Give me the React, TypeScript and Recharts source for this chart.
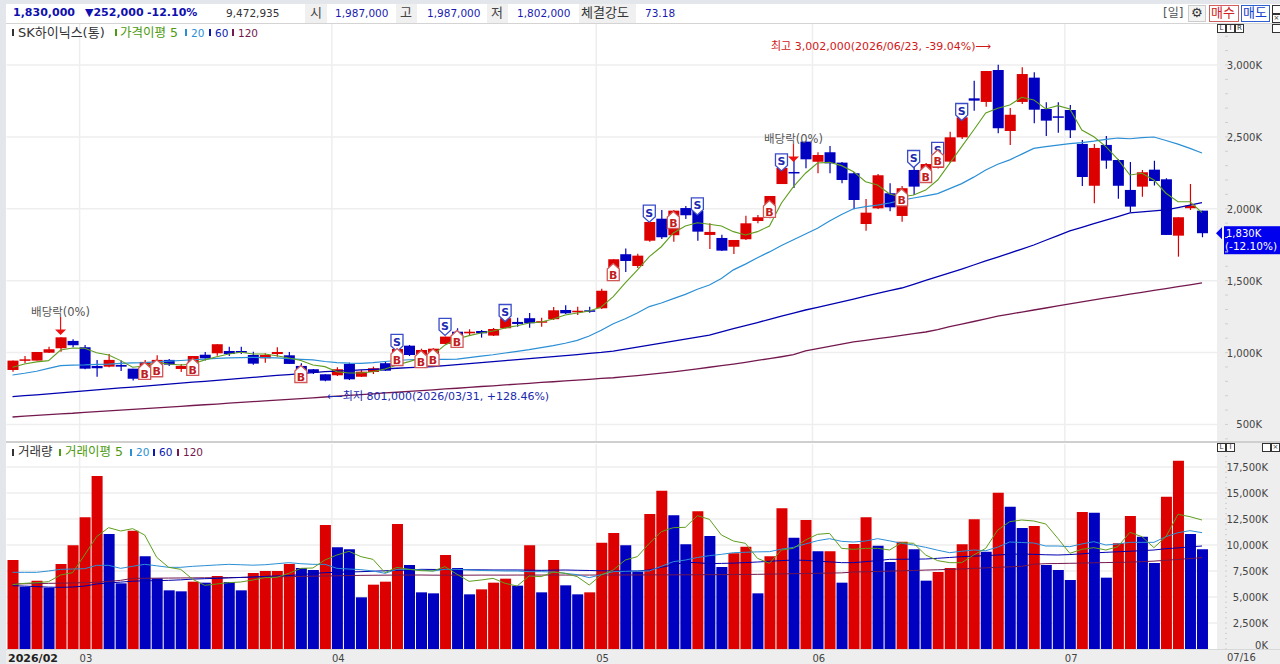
import React from "react";
import { ComposedChart, Bar, Line, Cell, XAxis, YAxis, CartesianGrid, ReferenceDot } from "recharts";

const RED = "#dd0000";
const BLUE = "#0000c0";
const GRID = "#eeeeee";
const FONT = '"DejaVu Sans", "Noto Sans CJK KR", sans-serif';

const dates = [
  "02/20", "02/23", "02/24", "02/25", "02/26", "02/27",
  "03/03", "03/04", "03/05", "03/06", "03/09", "03/10", "03/11", "03/12", "03/13", "03/16", "03/17", "03/18", "03/19", "03/20", "03/23", "03/24", "03/25", "03/26", "03/27", "03/30", "03/31",
  "04/01", "04/02", "04/03", "04/06", "04/07", "04/08", "04/09", "04/10", "04/13", "04/14", "04/15", "04/16", "04/17", "04/20", "04/21", "04/22", "04/23", "04/24", "04/27", "04/28", "04/29", "04/30",
  "05/04", "05/06", "05/07", "05/08", "05/11", "05/12", "05/13", "05/14", "05/15", "05/18", "05/19", "05/20", "05/21", "05/22", "05/26", "05/27", "05/28", "05/29",
  "06/01", "06/02", "06/04", "06/05", "06/08", "06/09", "06/10", "06/11", "06/12", "06/15", "06/16", "06/17", "06/18", "06/19", "06/22", "06/23", "06/24", "06/25", "06/26", "06/29", "06/30",
  "07/01", "07/02", "07/03", "07/06", "07/07", "07/08", "07/09", "07/10", "07/13", "07/14", "07/15", "07/16",
];

// prices in thousands of won
const opens = [
  879, 944, 944, 999, 1030, 1081, 1037, 907, 902, 914,
  888, 879, 893, 949, 886, 921, 985, 995, 1011, 1011,
  983, 960, 990, 981, 907, 884, 849, 842, 921, 832,
  865, 926, 935, 1048, 949, 962, 1060, 1145, 1134, 1150,
  1118, 1169, 1213, 1239, 1208, 1232, 1296, 1280, 1294, 1308,
  1505, 1684, 1602, 1778, 1931, 1816, 2005, 1985, 1818, 1797,
  1736, 1788, 1915, 1941, 2172, 2256, 2467, 2327, 2393, 2321,
  2247, 1894, 2003, 2108, 1950, 2270, 2200, 2284, 2328, 2497,
  2768, 2743, 2965, 2541, 2743, 2912, 2694, 2643, 2687, 2451,
  2160, 2444, 2339, 2131, 2154, 2272, 2205, 1813, 2004, 1987,
];
const highs = [
  944, 976, 1004, 1041, 1106, 1092, 1053, 949, 990, 944,
  888, 949, 981, 955, 921, 976, 1004, 1058, 1041, 1041,
  1006, 995, 1037, 1004, 926, 886, 849, 898, 930, 879,
  902, 935, 1039, 1053, 1027, 1032, 1111, 1169, 1162, 1157,
  1171, 1245, 1243, 1275, 1243, 1317, 1329, 1319, 1319, 1444,
  1649, 1723, 1688, 1908, 1992, 1992, 2019, 2026, 1899, 1820,
  1783, 1952, 1957, 2089, 2300, 2339, 2467, 2393, 2437, 2325,
  2256, 2068, 2242, 2177, 2159, 2290, 2318, 2400, 2536, 2660,
  2891, 2958, 3002, 2701, 2984, 2949, 2741, 2741, 2722, 2478,
  2451, 2506, 2346, 2325, 2270, 2334, 2212, 1941, 2172, 1987,
];
const lows = [
  867, 926, 944, 997, 1006, 1037, 884, 832, 898, 872,
  805, 865, 886, 907, 865, 915, 944, 978, 976, 990,
  916, 930, 971, 921, 865, 851, 801, 837, 809, 830,
  851, 872, 928, 976, 945, 955, 1060, 1101, 1118, 1104,
  1115, 1169, 1180, 1173, 1180, 1227, 1268, 1261, 1277, 1303,
  1498, 1560, 1588, 1771, 1790, 1771, 1929, 1778, 1720, 1706,
  1686, 1783, 1899, 1934, 2172, 2145, 2282, 2247, 2247, 2177,
  1997, 1848, 1999, 1983, 1910, 2096, 2195, 2280, 2318, 2485,
  2682, 2710, 2525, 2443, 2729, 2594, 2506, 2529, 2492, 2158,
  2038, 2279, 2070, 1978, 2084, 2161, 1818, 1667, 1992, 1802,
];
const closes = [
  944, 953, 1004, 1023, 1106, 1051, 888, 891, 949, 902,
  818, 935, 949, 916, 907, 976, 960, 1058, 990, 999,
  923, 983, 1004, 921, 879, 860, 805, 884, 814, 867,
  891, 874, 1025, 983, 1018, 1027, 1111, 1108, 1145, 1134,
  1164, 1239, 1199, 1204, 1218, 1294, 1273, 1291, 1284, 1430,
  1649, 1637, 1674, 1908, 1802, 1987, 1955, 1841, 1839, 1709,
  1783, 1899, 1941, 2089, 2284, 2247, 2344, 2374, 2316, 2200,
  2061, 1973, 2233, 2010, 2143, 2154, 2311, 2395, 2497, 2636,
  2752, 2958, 2560, 2654, 2937, 2689, 2613, 2634, 2546, 2221,
  2423, 2335, 2160, 2015, 2254, 2193, 1818, 1941, 2022, 1830,
];
const ma5 = [
  898, 920, 935, 944, 1018, 1032, 1030, 999, 983, 944,
  898, 907, 930, 921, 914, 921, 949, 971, 990, 1002,
  990, 990, 978, 962, 945, 914, 902, 867, 858, 858,
  867, 886, 914, 937, 962, 983, 1053, 1095, 1118, 1136,
  1150, 1171, 1187, 1206, 1213, 1234, 1261, 1275, 1289, 1317,
  1389, 1484, 1574, 1667, 1736, 1832, 1880, 1903, 1892, 1880,
  1841, 1818, 1841, 1880, 2040, 2154, 2247, 2318, 2323, 2300,
  2258, 2188, 2165, 2103, 2082, 2096, 2130, 2200, 2316, 2432,
  2548, 2666, 2699, 2722, 2775, 2757, 2694, 2717, 2694, 2548,
  2501, 2432, 2344, 2235, 2247, 2200, 2108, 2049, 2049, 1973,
];
const ma20 = [
  844, 856, 870, 890, 909, 912, 914, 918, 920, 925,
  928, 930, 935, 940, 945, 950, 955, 960, 963, 965,
  966, 965, 963, 958, 953, 949, 938, 930, 926, 925,
  930, 938, 945, 950, 952, 953, 953, 955, 965, 975,
  985, 997, 1008, 1020, 1034, 1048, 1065, 1085, 1115, 1155,
  1200, 1235, 1275, 1320, 1345, 1375, 1405, 1440, 1470, 1515,
  1575, 1615, 1660, 1700, 1745, 1785, 1825, 1865, 1915, 1960,
  2000, 2015, 2025, 2040, 2060, 2075, 2090, 2105, 2140, 2175,
  2220, 2270, 2310, 2340, 2380, 2420, 2432, 2443, 2453, 2460,
  2470, 2482, 2492, 2487, 2495, 2499, 2475, 2450, 2420, 2388,
];
const ma60 = [
  693, 700, 706, 713, 720, 727, 733, 740, 747, 754,
  760, 767, 774, 780, 787, 794, 800, 807, 814, 820,
  827, 834, 841, 847, 854, 860, 867, 871, 875, 879,
  883, 887, 891, 895, 899, 903, 909, 916, 923, 930,
  937, 944, 951, 958, 965, 972, 979, 986, 994, 1001,
  1010, 1024, 1038, 1052, 1066, 1080, 1094, 1108, 1122, 1144,
  1166, 1187, 1209, 1231, 1253, 1275, 1296, 1315, 1334, 1353,
  1372, 1392, 1411, 1430, 1449, 1475, 1502, 1528, 1555, 1581,
  1609, 1637, 1664, 1692, 1720, 1748, 1781, 1813, 1846, 1871,
  1896, 1921, 1946, 1971, 1978, 1985, 1992, 2008, 2025, 2042,
];
const ma120 = [
  552, 558, 563, 568, 574, 578, 584, 589, 594, 600,
  605, 610, 616, 621, 626, 632, 637, 642, 648, 653,
  659, 664, 669, 675, 680, 685, 691, 697, 702, 708,
  713, 719, 724, 730, 736, 741, 747, 752, 758, 764,
  769, 775, 780, 786, 792, 797, 803, 808, 814, 820,
  825, 832, 840, 848, 857, 866, 876, 887, 898, 909,
  920, 932, 945, 958, 971, 985, 1011, 1027, 1043, 1058,
  1074, 1085, 1097, 1108, 1120, 1131, 1143, 1160, 1180, 1198,
  1216, 1235, 1254, 1268, 1282, 1296, 1310, 1324, 1338, 1352,
  1366, 1380, 1393, 1406, 1419, 1432, 1445, 1458, 1471, 1484,
];

// volume in thousands of shares
const volumes = [
  8557, 5993, 6570, 5897, 8173, 9968, 12660, 16634, 11057, 6314,
  11378, 8910, 6795, 5641, 5545, 6474, 6378, 7019, 6442, 5641,
  7307, 7500, 7500, 8173, 7788, 7596, 11923, 9775, 9583, 4968,
  6186, 6474, 12019, 8077, 5448, 5352, 9038, 7788, 5256, 5737,
  6378, 6763, 6090, 9968, 5448, 8557, 6122, 5256, 5448, 10224,
  11153, 9968, 7436, 12980, 15224, 12852, 10064, 13237, 10865, 7884,
  9198, 9839, 5352, 8910, 13525, 10705, 12403, 9391, 9391, 6378,
  10096, 12660, 9936, 8365, 10320, 9583, 6570, 7404, 7788, 10064,
  12467, 9359, 15031, 13685, 11634, 11826, 8077, 7596, 6634, 13172,
  13100, 6859, 10160, 12788, 10801, 8269, 14647, 18108, 11057, 9583,
];
const volMa5 = [
  6186, 6314, 6378, 6474, 7115, 7339, 9038, 10801, 11666, 11346,
  11570, 10961, 8814, 7852, 7660, 6698, 6122, 6250, 6378, 6442,
  6634, 6859, 6891, 7275, 7756, 7788, 8557, 9038, 9391, 8878,
  8621, 7339, 7852, 7660, 7532, 7500, 7916, 7179, 6506, 6634,
  6795, 6314, 6057, 7019, 6955, 7404, 7275, 6955, 6154, 7115,
  7596, 8557, 8878, 10160, 11282, 11666, 11698, 12820, 12467, 10961,
  10384, 10160, 8718, 8237, 9519, 9679, 10480, 11025, 11121, 9679,
  9583, 9679, 9679, 9519, 10224, 10160, 9038, 8493, 8301, 8301,
  9038, 9679, 11442, 12243, 12403, 12307, 12019, 10641, 9198, 9583,
  9743, 9519, 9839, 11218, 10801, 9743, 10801, 12948, 12724, 12403,
];
const volMa20 = [
  7372, 7372, 7372, 7500, 7660, 7690, 7720, 8045, 8045, 7756,
  7950, 8141, 8000, 7852, 7852, 7950, 8013, 8080, 8141, 8100,
  8060, 8100, 8200, 8301, 8200, 8141, 8141, 7756, 7690, 7630,
  7500, 7275, 7660, 7660, 7600, 7500, 7660, 7660, 7600, 7550,
  7530, 7500, 7500, 7436, 7436, 7400, 7275, 7150, 6859, 7150,
  7436, 7470, 7500, 7500, 7950, 8397, 8550, 8800, 8974, 9100,
  9262, 9300, 9340, 9358, 9600, 9775, 10100, 10416, 10608, 10352,
  10288, 10384, 10608, 10400, 10160, 10000, 9775, 9500, 9262, 9400,
  9519, 9450, 9800, 10288, 10240, 10192, 9903, 9903, 9839, 10100,
  10320, 9999, 10100, 10256, 10256, 10256, 10800, 11185, 11378, 11185,
];
const volMa60 = [
  6090, 6050, 6000, 5950, 5929, 5960, 6050, 6250, 6350, 6430,
  6520, 6560, 6570, 6600, 6650, 6720, 6762, 6790, 6830, 6880,
  6930, 6980, 7030, 7060, 7150, 7250, 7339, 7370, 7400, 7436,
  7480, 7520, 7560, 7590, 7660, 7650, 7640, 7630, 7620, 7610,
  7600, 7600, 7600, 7580, 7560, 7580, 7596, 7570, 7550, 7520,
  7500, 7500, 7500, 7600, 7852, 8100, 8333, 8300, 8205, 8230,
  8260, 8310, 8365, 8430, 8500, 8557, 8520, 8440, 8380, 8301,
  8301, 8400, 8500, 8621, 8630, 8640, 8654, 8720, 8800, 8878,
  8930, 8974, 9040, 9100, 9134, 9100, 9060, 9038, 9080, 9150,
  9240, 9295, 9350, 9400, 9455, 9520, 9647, 9720, 9820, 9903,
];
const volMa120 = [
  6250, 6270, 6290, 6310, 6330, 6350, 6380, 6420, 6500, 6600,
  6795, 6800, 6810, 6820, 6830, 6840, 6850, 6860, 6870, 6880,
  6900, 6920, 6940, 6960, 6980, 7000, 7020, 7040, 7060, 7080,
  7090, 7100, 7110, 7110, 7115, 7100, 7100, 7100, 7100, 7105,
  7105, 7105, 7110, 7110, 7110, 7110, 7110, 7110, 7110, 7115,
  7115, 7120, 7120, 7125, 7130, 7130, 7135, 7140, 7145, 7150,
  7160, 7170, 7179, 7200, 7220, 7240, 7260, 7280, 7300, 7320,
  7400, 7430, 7460, 7490, 7520, 7550, 7590, 7620, 7660, 7700,
  7750, 7800, 7850, 7900, 7950, 8150, 8205, 8220, 8240, 8260,
  8290, 8310, 8330, 8350, 8397, 8450, 8530, 8610, 8700, 8782,
];

const priceLabels = [500, 1000, 1500, 2000, 2500, 3000];
const priceMinorTicks = [
  400, 500, 600, 700, 800, 900, 1000, 1100, 1200, 1300, 1400, 1500, 1600, 1700, 1800, 1900,
  2000, 2100, 2200, 2300, 2400, 2500, 2600, 2700, 2800, 2900, 3000, 3100, 3200,
];
const volumeLabels = [0, 2500, 5000, 7500, 10000, 12500, 15000, 17500];
const volumeMinorTicks = [
  0, 500, 1000, 1500, 2000, 2500, 3000, 3500, 4000, 4500, 5000, 5500, 6000, 6500, 7000, 7500, 8000, 8500, 9000, 9500,
  10000, 10500, 11000, 11500, 12000, 12500, 13000, 13500, 14000, 14500, 15000, 15500, 16000, 16500, 17000, 17500, 18000, 18500, 19000, 19500,
];
const monthStarts = ["02/20", "03/03", "04/01", "05/04", "06/01", "07/01"];
const monthLabels = ["2026/02", "03", "04", "05", "06", "07"];

// signal markers: [date, price where the marker sits]
const sellMarks: [string, number][] = [
  ["04/08", 1067], ["04/14", 1178], ["04/21", 1275], ["05/11", 1966], ["05/15", 2016],
  ["05/27", 2322], ["06/12", 2346], ["06/16", 2402], ["06/18", 2673],
];
const buyMarks: [string, number][] = [
  ["03/10", 872], ["03/11", 891], ["03/16", 900], ["03/27", 851], ["04/08", 969], ["04/10", 954],
  ["04/13", 966], ["04/15", 1095], ["05/06", 1560], ["05/13", 1922], ["05/26", 1999], ["06/11", 2079],
  ["06/15", 2242], ["06/16", 2350],
];
const dividendMarks: [string, number][] = [["02/26", 1122], ["05/28", 2325]];

const priceData = dates.map((date, i) => ({
  date,
  open: opens[i],
  high: highs[i],
  low: lows[i],
  close: closes[i],
  ma5: ma5[i],
  ma20: ma20[i],
  ma60: ma60[i],
  ma120: ma120[i],
}));

const volumeData = dates.map((date, i) => ({
  date,
  volume: volumes[i],
  ma5: volMa5[i],
  ma20: volMa20[i],
  ma60: volMa60[i],
  ma120: volMa120[i],
}));

const AXIS_PAD = 9;

// month separators sit on the left edge of the month's first candle band
const monthLines = ({ offset }: any) => {
  const band = (offset.width - AXIS_PAD) / dates.length;
  return monthStarts.slice(1).map((d) => offset.left + dates.indexOf(d) * band + 1);
};

function Candle(props: any) {
  const { x, y, width, height, payload } = props;
  const { open, high, low, close } = payload;
  const perUnit = Math.abs(height) / (high - low);
  const yOf = (v: number) => y + (high - v) * perUnit;
  const top = yOf(Math.max(open, close));
  const bottom = yOf(Math.min(open, close));
  const color = close >= open ? RED : BLUE;
  const cx = x + width / 2;
  return (
    <g>
      <line x1={cx} x2={cx} y1={y} y2={y + Math.abs(height)} stroke={color} strokeWidth={1.2} />
      <rect x={x} y={top} width={width} height={Math.max(bottom - top, 1.5)} fill={color} />
    </g>
  );
}

function SellMark({ cx, cy }: any) {
  const pts = `${cx - 6},${cy - 8.5} ${cx + 6},${cy - 8.5} ${cx + 6},${cy + 3} ${cx},${cy + 8.5} ${cx - 6},${cy + 3}`;
  return (
    <g>
      <polygon points={pts} fill="#fff" stroke="#3b4cc8" strokeWidth={1.3} />
      <text x={cx} y={cy + 3} textAnchor="middle" fontSize={11} fontWeight="bold" fontFamily={FONT} fill="#1c2cb0">S</text>
    </g>
  );
}

function BuyMark({ cx, cy }: any) {
  const pts = `${cx},${cy - 8.5} ${cx + 6},${cy - 3} ${cx + 6},${cy + 8.5} ${cx - 6},${cy + 8.5} ${cx - 6},${cy - 3}`;
  return (
    <g>
      <polygon points={pts} fill="#fff" stroke="#d05a5a" strokeWidth={1.3} />
      <text x={cx} y={cy + 7} textAnchor="middle" fontSize={11} fontWeight="bold" fontFamily={FONT} fill="#c02020">B</text>
    </g>
  );
}

function DividendMark({ cx, cy }: any) {
  return (
    <g>
      <text x={cx} y={cy - 19} textAnchor="middle" fontSize={11.5} fontFamily={FONT} fill="#555">배당락(0%)</text>
      <line x1={cx} x2={cx} y1={cy - 18} y2={cy - 5} stroke="#f01010" strokeWidth={1.2} />
      <polygon points={`${cx - 5.5},${cy - 5.5} ${cx + 5.5},${cy - 5.5} ${cx},${cy}`} fill="#f01010" />
    </g>
  );
}

function LastPriceTag({ cy }: any) {
  const left = 1224;
  return (
    <g>
      <polygon points={`1216,${cy} 1222,${cy - 6} 1222,${cy + 6}`} fill="#0000ee" />
      <rect x={left} y={cy - 7} width={56} height={28} fill="#0000ee" />
      <text x={left + 2} y={cy + 4} fontSize={10} fontFamily={FONT} fill="#fff">1,830K</text>
      <text x={left + 1} y={cy + 17} fontSize={10.5} fontFamily={FONT} fill="#fff">(-12.10%)</text>
    </g>
  );
}

function PriceTick({ x, y, payload }: any) {
  const labelled = priceLabels.includes(payload.value);
  return (
    <g>
      <line x1={x} x2={x + 3} y1={y} y2={y} stroke="#cfcfcf" />
      {labelled && (
        <text x={1262} y={y + 4} textAnchor="end" fontSize={10} fontFamily={FONT} fill="#444">
          {payload.value.toLocaleString("en-US")}K
        </text>
      )}
    </g>
  );
}

function VolumeTick({ x, y, payload }: any) {
  const labelled = volumeLabels.includes(payload.value);
  return (
    <g>
      <line x1={x} x2={x + 2} y1={y} y2={y} stroke="#cfcfcf" />
      {labelled && (
        <text x={1268} y={payload.value === 0 ? y : y + 4} textAnchor="end" fontSize={10} fontFamily={FONT} fill="#444">
          {payload.value.toLocaleString("en-US")}K
        </text>
      )}
    </g>
  );
}

function MonthTick({ x, payload, index }: any) {
  const first = index === 0;
  return (
    <text x={first ? 8 : x - 5} y={219} fontSize={first ? 11 : 10} fontWeight={first ? "bold" : "normal"} fontFamily={FONT} fill={first ? "#222" : "#444"}>
      {monthLabels[index]}
    </text>
  );
}

function Label({ x, y, color = "#333", size = 11, bold = false, children }: any) {
  return (
    <span style={{ position: "absolute", left: x, top: y, fontSize: size, fontWeight: bold ? "bold" : "normal", color, fontFamily: FONT, lineHeight: "14px", whiteSpace: "nowrap" }}>
      {children}
    </span>
  );
}

function Box({ x, y, w, h, bg = "#f0f0f0", border }: any) {
  return (
    <div style={{ position: "absolute", left: x, top: y, width: w, height: h, background: bg, border, boxSizing: "border-box" }} />
  );
}

function TinyBtn({ x, y, children }: any) {
  return (
    <span style={{ position: "absolute", left: x, top: y, width: 9, height: 9, border: "1px solid #333", boxSizing: "border-box", fontSize: 7, lineHeight: "7px", textAlign: "center", color: "#333", fontFamily: FONT, background: "#fff" }}>
      {children}
    </span>
  );
}

function Pip({ x, y, color }: any) {
  return <div style={{ position: "absolute", left: x, top: y, width: 2, height: 7, background: color }} />;
}

export default function App() {
  return (
    <div style={{ position: "absolute", left: 0, top: 0, width: 1280, height: 664, overflow: "hidden", background: GRID }}>
      <Box x={0} y={0} w={1280} h={4} bg="#e3e7ec" />
      <Box x={0} y={0} w={6} h={664} bg="#e3e7ec" />
      <Box x={6} y={4} w={1274} h={19} bg="#fff" />
      <Box x={6} y={23} w={1274} h={1} bg="#d4d4d4" />
      <Box x={6} y={24} w={1211} h={417} bg="#fff" />
      <Box x={6} y={441} w={1274} h={2} bg="#cfcfcf" />
      <Box x={6} y={443} w={1211} h={206} bg="#fff" />
      <Box x={6} y={649} w={1274} h={1} bg="#d8d8d8" />

      {/* top quote strip */}
      <Label x={13} y={6} color="#1010b0" bold>1,830,000</Label>
      <Label x={85} y={6} color="#1010b0" bold>▼252,000</Label>
      <Label x={147} y={6} color="#1010b0" bold>-12.10%</Label>
      <Label x={226} y={6} size={10.5}>9,472,935</Label>
      <Box x={305} y={4} w={22} h={19} />
      <Label x={310} y={6} size={13} color="#444">시</Label>
      <Label x={335} y={6} size={10.5} color="#1a1ab0">1,987,000</Label>
      <Box x={396} y={4} w={21} h={19} />
      <Label x={400} y={6} size={13} color="#444">고</Label>
      <Label x={427} y={6} size={10.5} color="#1a1ab0">1,987,000</Label>
      <Box x={487} y={4} w={21} h={19} />
      <Label x={491} y={6} size={13} color="#444">저</Label>
      <Label x={517} y={6} size={10.5} color="#1a1ab0">1,802,000</Label>
      <Box x={579} y={4} w={57} h={19} />
      <Label x={581} y={6} size={13} color="#333">체결강도</Label>
      <Label x={645} y={6} size={10.5} color="#1a1ab0">73.18</Label>
      <Label x={1163} y={6} size={12} color="#555">[일]</Label>
      <Box x={1188} y={5} w={18} h={17} bg="#f4f4f4" border="1px solid #ccc" />
      <Label x={1191} y={6} size={13} color="#333">⚙</Label>
      <Box x={1209} y={5} w={30} h={17} bg="#fff" border="1px solid #d06060" />
      <Label x={1211} y={6} size={13} color="#d02020">매수</Label>
      <Box x={1241} y={5} w={29} h={17} bg="#fff" border="1px solid #3060d0" />
      <Label x={1243} y={6} size={13} color="#1040d0">매도</Label>
      <TinyBtn x={1272} y={5} />
      <TinyBtn x={1272} y={14}>×</TinyBtn>

      <div style={{ position: "absolute", left: 0, top: 0 }}>
        <ComposedChart width={1280} height={442} data={priceData} margin={{ top: 24, right: 0, bottom: 1, left: 6.5 }}>
          <CartesianGrid stroke={GRID} strokeWidth={1.5} horizontalValues={priceLabels} verticalCoordinatesGenerator={monthLines} />
          <XAxis dataKey="date" hide padding={{ left: 0, right: AXIS_PAD }} interval={0} />
          <YAxis
            orientation="right"
            width={63}
            domain={[385, 3285]}
            allowDataOverflow
            ticks={priceMinorTicks}
            interval={0}
            tick={PriceTick}
            tickLine={false}
            axisLine={false}
          />
          <Line dataKey="ma120" stroke="#74184e" strokeWidth={1.3} dot={false} isAnimationActive={false} />
          <Line dataKey="ma60" stroke="#0000b0" strokeWidth={1.3} dot={false} isAnimationActive={false} />
          <Bar dataKey={(d: any) => [d.low, d.high]} barSize={11} shape={Candle} isAnimationActive={false} />
          <Line dataKey="ma20" stroke="#2b8fd6" strokeWidth={1.2} dot={false} isAnimationActive={false} />
          <Line dataKey="ma5" stroke="#5f9e1e" strokeWidth={1.1} dot={false} isAnimationActive={false} />
          {sellMarks.map(([d, v]) => (
            <ReferenceDot key={"s" + d} x={d} y={v} shape={SellMark} />
          ))}
          {buyMarks.map(([d, v]) => (
            <ReferenceDot key={"b" + d} x={d} y={v} shape={BuyMark} />
          ))}
          {dividendMarks.map(([d, v]) => (
            <ReferenceDot key={"d" + d} x={d} y={v} shape={DividendMark} />
          ))}
          <ReferenceDot x="07/16" y={1830} shape={LastPriceTag} />
        </ComposedChart>
      </div>

      <div style={{ position: "absolute", left: 0, top: 443 }}>
        <ComposedChart width={1280} height={221} data={volumeData} margin={{ top: 1, right: 0, bottom: 0, left: 6.5 }}>
          <CartesianGrid stroke={GRID} strokeWidth={1.5} horizontalValues={volumeLabels.slice(1)} verticalCoordinatesGenerator={monthLines} />
          <XAxis
            dataKey="date"
            height={15}
            padding={{ left: 0, right: AXIS_PAD }}
            ticks={monthStarts}
            interval={0}
            tick={MonthTick}
            tickLine={false}
            axisLine={false}
          />
          <YAxis
            orientation="right"
            width={63}
            domain={[0, 19711]}
            allowDataOverflow
            ticks={volumeMinorTicks}
            interval={0}
            tick={VolumeTick}
            tickLine={false}
            axisLine={false}
          />
          <Bar dataKey="volume" barSize={11} isAnimationActive={false}>
            {volumes.map((v, i) => (
              <Cell key={dates[i]} fill={i === 0 || v >= volumes[i - 1] ? RED : BLUE} />
            ))}
          </Bar>
          <Line dataKey="ma120" stroke="#74184e" strokeWidth={1} dot={false} isAnimationActive={false} />
          <Line dataKey="ma60" stroke="#0000b0" strokeWidth={1} dot={false} isAnimationActive={false} />
          <Line dataKey="ma20" stroke="#2b8fd6" strokeWidth={1} dot={false} isAnimationActive={false} />
          <Line dataKey="ma5" stroke="#5f9e1e" strokeWidth={1} dot={false} isAnimationActive={false} />
        </ComposedChart>
      </div>

      {/* legends and annotations */}
      <Pip x={12} y={29} color="#333" />
      <Label x={18} y={26} size={13} color="#333">SK하이닉스(통)</Label>
      <Pip x={115} y={29} color="#4e9a10" />
      <Label x={120} y={26} size={12.5} color="#4e9a10">가격이평 5</Label>
      <Pip x={185} y={29} color="#2b8fd6" />
      <Label x={191} y={26} size={10.5} color="#2b8fd6">20</Label>
      <Pip x={209} y={29} color="#0a18b0" />
      <Label x={215} y={26} size={10.5} color="#0a18b0">60</Label>
      <Pip x={232} y={29} color="#74184e" />
      <Label x={238} y={26} size={10.5} color="#74184e">120</Label>

      <Pip x={12} y={449} color="#333" />
      <Label x={18} y={445} size={12.5} color="#333">거래량</Label>
      <Pip x={59} y={449} color="#4e9a10" />
      <Label x={65} y={445} size={12.5} color="#4e9a10">거래이평 5</Label>
      <Pip x={130} y={449} color="#2b8fd6" />
      <Label x={136} y={445} size={10.5} color="#2b8fd6">20</Label>
      <Pip x={153} y={449} color="#0a18b0" />
      <Label x={159} y={445} size={10.5} color="#0a18b0">60</Label>
      <Pip x={177} y={449} color="#74184e" />
      <Label x={183} y={445} size={10.5} color="#74184e">120</Label>

      <Label x={771} y={40} size={11} color="#d01818">최고 3,002,000(2026/06/23, -39.04%)⟶</Label>
      <Label x={327} y={390} size={11} color="#1a2ab0">⟵최저 801,000(2026/03/31, +128.46%)</Label>

      <TinyBtn x={1217} y={24}>L</TinyBtn>
      <TinyBtn x={1226} y={24}>I</TinyBtn>
      <TinyBtn x={1235} y={24}>R</TinyBtn>
      <TinyBtn x={1272} y={24} />
      <TinyBtn x={1217} y={443}>L</TinyBtn>
      <TinyBtn x={1226} y={443}>I</TinyBtn>
      <TinyBtn x={1262} y={443} />
      <TinyBtn x={1271} y={443}>×</TinyBtn>
      <Label x={1227} y={651} size={10} color="#444">07/16</Label>
    </div>
  );
}
